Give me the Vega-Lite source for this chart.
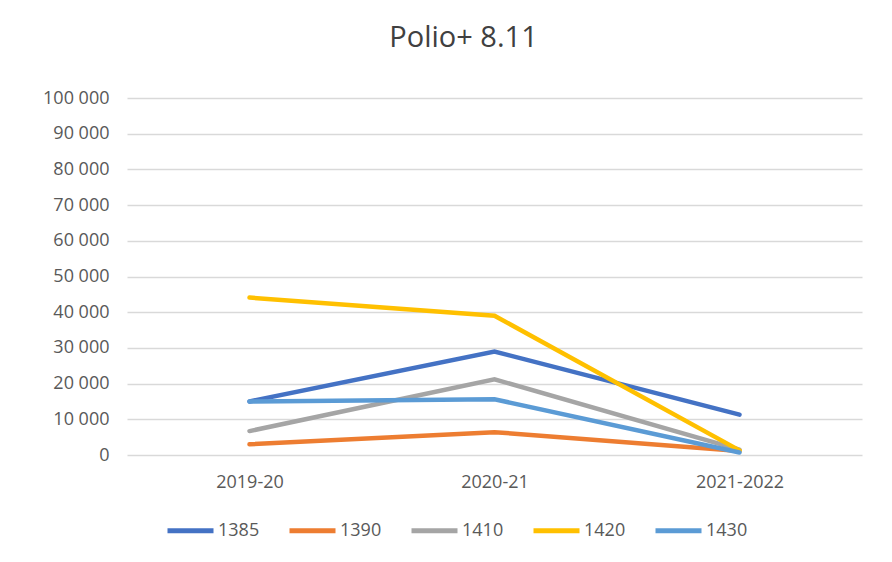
{
  "$schema": "https://vega.github.io/schema/vega-lite/v6.json",
  "width": 735,
  "height": 357,
  "autosize": {"type": "none"},
  "padding": {"left": 127, "top": 98, "right": 30, "bottom": 107},
  "background": "white",
  "title": {
    "text": "Polio+ 8.11",
    "fontSize": 29,
    "font": "Open Sans",
    "fontWeight": "normal",
    "color": "#404040",
    "anchor": "middle",
    "dx": -31,
    "offset": 36
  },
  "data": {
    "values": [
      {"year": "2019-20", "series": "1385", "value": 15000},
      {"year": "2020-21", "series": "1385", "value": 29000},
      {"year": "2021-2022", "series": "1385", "value": 11300},
      {"year": "2019-20", "series": "1390", "value": 3000},
      {"year": "2020-21", "series": "1390", "value": 6400},
      {"year": "2021-2022", "series": "1390", "value": 1100},
      {"year": "2019-20", "series": "1410", "value": 6700},
      {"year": "2020-21", "series": "1410", "value": 21200},
      {"year": "2021-2022", "series": "1410", "value": 1500},
      {"year": "2019-20", "series": "1420", "value": 44100},
      {"year": "2020-21", "series": "1420", "value": 39000},
      {"year": "2021-2022", "series": "1420", "value": 1300},
      {"year": "2019-20", "series": "1430", "value": 15000},
      {"year": "2020-21", "series": "1430", "value": 15600},
      {"year": "2021-2022", "series": "1430", "value": 700}
    ]
  },
  "mark": {"type": "line", "strokeWidth": 4.5, "strokeCap": "round"},
  "encoding": {
    "x": {
      "field": "year",
      "type": "ordinal",
      "sort": null,
      "scale": {"type": "point", "padding": 0.5},
      "axis": {
        "title": null,
        "labelAngle": 0,
        "ticks": false,
        "domain": false,
        "grid": false,
        "labelFontSize": 18,
        "labelFont": "Open Sans",
        "labelColor": "#595959",
        "labelPadding": 18
      }
    },
    "y": {
      "field": "value",
      "type": "quantitative",
      "scale": {"domain": [0, 100000]},
      "axis": {
        "title": null,
        "values": [0, 10000, 20000, 30000, 40000, 50000, 60000, 70000, 80000, 90000, 100000],
        "labelExpr": "replace(format(datum.value, ','), ',', ' ')",
        "labelOverlap": false,
        "ticks": false,
        "domain": false,
        "gridColor": "#d9d9d9",
        "gridWidth": 1.5,
        "labelFontSize": 18,
        "labelFont": "Open Sans",
        "labelColor": "#595959",
        "labelPadding": 18
      }
    },
    "color": {
      "field": "series",
      "type": "nominal",
      "scale": {
        "domain": ["1385", "1390", "1410", "1420", "1430"],
        "range": ["#4472C4", "#ED7D31", "#A5A5A5", "#FFC000", "#5B9BD5"]
      },
      "legend": {
        "title": null,
        "orient": "none",
        "legendX": 38,
        "legendY": 407,
        "direction": "horizontal",
        "symbolType": "stroke",
        "symbolStrokeWidth": 5,
        "symbolSize": 2116,
        "labelFontSize": 18,
        "labelFont": "Open Sans",
        "labelColor": "#595959",
        "columnPadding": 19,
        "labelOffset": 2
      }
    }
  },
  "config": {"view": {"stroke": null}}
}
